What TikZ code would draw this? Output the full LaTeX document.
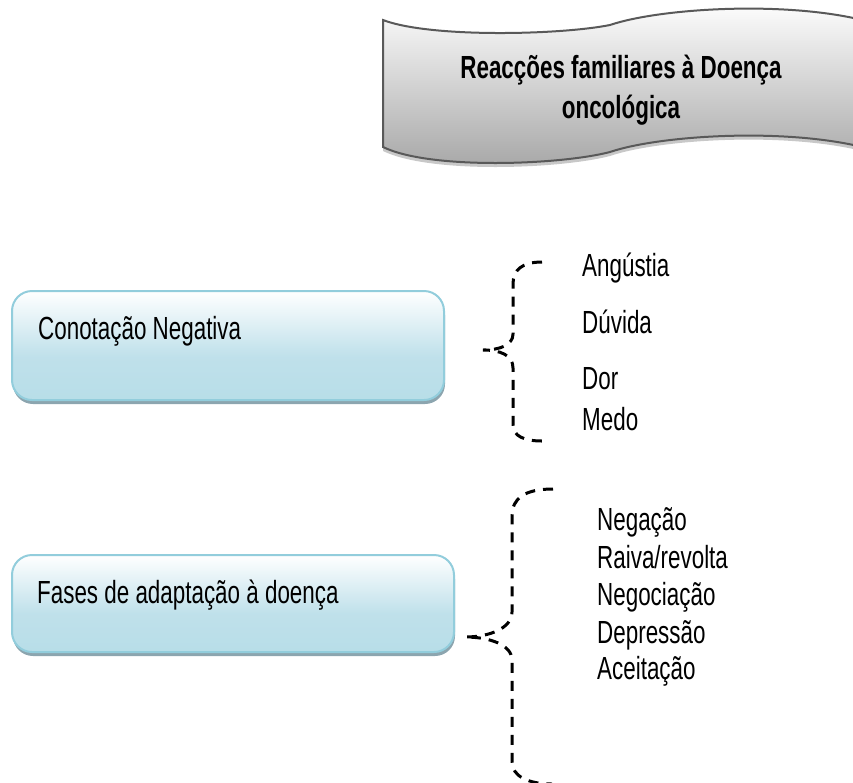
\documentclass[tikz,border=0pt]{standalone}
\usepackage{fontspec}
\setmainfont[FakeStretch=0.7]{Liberation Sans}
\usetikzlibrary{calc,shadows}

% cores
\definecolor{caixaborda}{RGB}{146,205,220}
\definecolor{caixasombra}{RGB}{140,165,175}
\definecolor{faixaborda}{RGB}{89,89,89}
\definecolor{faixasombra}{RGB}{200,200,200}

% gradiente das caixas: branco em cima, azul claro em baixo
\pgfdeclareverticalshading{caixagrad}{100bp}{rgb(0bp)=(0.72,0.87,0.91); rgb(25bp)=(0.72,0.87,0.91); rgb(45bp)=(0.75,0.88,0.92); rgb(75bp)=(1,1,1); rgb(100bp)=(1,1,1)}

\tikzset{
  caixa/.style={draw=caixaborda, line width=2pt, rounded corners=20pt,
    shade, shading=caixagrad,
    drop shadow={shadow xshift=1pt, shadow yshift=-4pt, fill=caixasombra, opacity=1}},
  caixatexto/.style={anchor=base west, inner sep=0pt, font=\fontsize{32}{38}\selectfont},
  item/.style={anchor=base west, inner sep=0pt, font=\fontsize{32}{38}\selectfont},
  faixa/.style={draw=faixaborda, line width=2pt, top color=white, bottom color=gray!70,
    drop shadow={shadow xshift=0pt, shadow yshift=-4pt, fill=faixasombra, opacity=1}},
  titulo/.style={align=center, font=\bfseries\fontsize{32}{40}\selectfont},
  chaveta/.style={dash pattern=on 10pt off 8pt, line width=3pt}
}

\begin{document}
\begin{tikzpicture}[x=1pt, y=-1pt]
    \useasboundingbox (0,0) rectangle (853,782);

    % --- faixa do titulo (cortada na margem direita) ---
    \shadedraw[faixa] (383,20) .. controls (430,38) and (560,35) .. (610,25)
        .. controls (660,8) and (790,0) .. (870,22) -- (870,149)
        .. controls (790,127) and (660,135) .. (610,152)
        .. controls (560,165) and (430,170) .. (383,147) -- cycle;
    \node[titulo] (titulo) at (621,90) {Reacções familiares à Doença\\oncológica};

    % --- caixas da esquerda ---
    \node[caixa, minimum width=432, minimum height=109] (negativa) at (228,345.5) {};
    \node[caixatexto] (negtxt) at ($(negativa.north west)+(27,49)$) {Conotação Negativa};

    \node[caixa, minimum width=442, minimum height=97] (fases) at (233,603.5) {};
    \node[caixatexto] (fasestxt) at ($(fases.north west)+(26,49)$) {Fases de adaptação à doença};

    % --- chavetas tracejadas ---
    % pontas e bico da primeira chaveta
    \coordinate (c1topo) at (542,262);
    \coordinate (c1bico) at (483,350);
    \coordinate (c1base) at (542,441);
    \draw[chaveta] (c1topo) .. controls (522,262) and (513,270) .. (513,284) -- (513,334)
        .. controls (513,345) and (500,350) .. (c1bico)
        .. controls (500,350) and (513,355) .. (513,368) -- (513,425)
        .. controls (513,436) and (524,441) .. (c1base);

    % pontas e bico da segunda chaveta
    \coordinate (c2topo) at (553,489);
    \coordinate (c2bico) at (465,637);
    \coordinate (c2base) at (552,784);
    \draw[chaveta] (c2topo) .. controls (525,489) and (512,498) .. (512,516) -- (512,612)
        .. controls (512,628) and (490,637) .. (c2bico)
        .. controls (490,637) and (512,645) .. (512,660) -- (512,762)
        .. controls (512,776) and (528,784) .. (c2base);

    % --- primeira lista ---
    \node[item] (angustia) at (582,276) {Angústia};
    \node[item] (duvida) at (582,333) {Dúvida};
    \node[item] (dor) at (582,389) {Dor};
    \node[item] (medo) at (582,430) {Medo};

    % --- segunda lista ---
    \node[item] (negacao) at (597,530) {Negação};
    \node[item] (raiva) at (597,568) {Raiva/revolta};
    \node[item] (negociacao) at (597,605) {Negociação};
    \node[item] (depressao) at (597,643) {Depressão};
    \node[item] (aceitacao) at (597,679) {Aceitação};
\end{tikzpicture}
\end{document}
